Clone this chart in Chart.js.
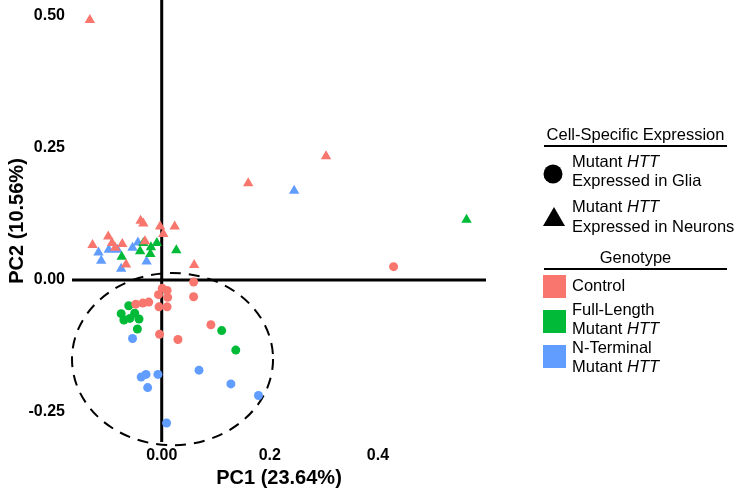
<!DOCTYPE html>
<html lang="en">
<head>
  <meta charset="UTF-8">
  <title>PCA Plot</title>
  <script src="https://cdn.jsdelivr.net/npm/chart.js"></script>
  <style>
    body { margin: 0; background: #fff; }
  </style>
</head>
<body>
  <canvas id="pcaChart" width="735" height="490"></canvas>

  <script>
    // PC1 / PC2 scores, one array per genotype + cell type
    const controlNeurons = [
      [-0.133, 0.492], [-0.039, 0.112], [-0.034, 0.107], [-0.003, 0.101],
      [0.024, 0.101], [0.003, 0.087], [-0.128, 0.066], [-0.099, 0.082],
      [-0.092, 0.070], [-0.086, 0.061], [-0.073, 0.068], [-0.031, 0.073],
      [-0.066, 0.029], [0.060, 0.028], [0.160, 0.183], [0.304, 0.234]
    ];
    const fullLengthNeurons = [
      [-0.074, 0.044], [-0.034, 0.070], [-0.040, 0.054], [-0.020, 0.062],
      [-0.021, 0.049], [-0.009, 0.070], [0.027, 0.056], [0.564, 0.114]
    ];
    const nTerminalNeurons = [
      [-0.117, 0.052], [-0.112, 0.036], [-0.098, 0.057], [-0.082, 0.057],
      [-0.054, 0.061], [-0.044, 0.071], [-0.028, 0.035], [-0.075, 0.021],
      [0.245, 0.169]
    ];
    const controlGlia = [
      [0.059, -0.004], [0.059, -0.032], [0.001, -0.016], [0.010, -0.020],
      [-0.006, -0.028], [0.011, -0.033], [-0.048, -0.046], [-0.035, -0.044],
      [-0.024, -0.042], [-0.005, -0.051], [0.010, -0.051], [0.091, -0.085],
      [-0.004, -0.103], [0.030, -0.113], [0.429, 0.025]
    ];
    const fullLengthGlia = [
      [-0.061, -0.049], [-0.075, -0.064], [-0.070, -0.076], [-0.059, -0.073],
      [-0.050, -0.063], [-0.042, -0.074], [-0.045, -0.093], [0.111, -0.096],
      [0.137, -0.133]
    ];
    const nTerminalGlia = [
      [-0.054, -0.111], [-0.038, -0.184], [-0.029, -0.179], [-0.026, -0.204],
      [-0.007, -0.179], [0.069, -0.171], [0.009, -0.271], [0.128, -0.197],
      [0.179, -0.219]
    ];

    // axis ticks
    const xTicks = [0, 0.2, 0.4];
    const xTickLabels = ['0.00', '0.2', '0.4'];
    const yTicks = [0.5, 0.25, 0, -0.25];
    const yTickLabels = ['0.50', '0.25', '0.00', '-0.25'];

    // dashed ellipse (centre and radii in PC units)
    const ellipse = { cx: 0.020, cy: -0.150, rx: 0.186, ry: 0.163 };

    const colors = { control: '#F8766D', fullLength: '#00BA38', nTerminal: '#619CFF' };
    const FONT = '"Liberation Sans", Arial, sans-serif';

    const toPoints = arr => arr.map(p => ({ x: p[0], y: p[1] }));

    function series(label, arr, color, style) {
      return {
        label: label,
        data: toPoints(arr),
        backgroundColor: color,
        borderWidth: 0,
        pointStyle: style,
        pointRadius: style === 'triangle' ? 6 : 4.5,
        pointHoverRadius: style === 'triangle' ? 6 : 4.5
      };
    }

    // zero lines + ellipse, drawn under the points
    const refLines = {
      id: 'refLines',
      beforeDatasetsDraw(chart) {
        const { ctx, chartArea: a, scales: { x, y } } = chart;
        ctx.save();
        ctx.strokeStyle = '#000';
        ctx.lineWidth = 3;
        ctx.beginPath();
        ctx.moveTo(a.left, y.getPixelForValue(0));
        ctx.lineTo(a.right, y.getPixelForValue(0));
        ctx.moveTo(x.getPixelForValue(0), a.top);
        ctx.lineTo(x.getPixelForValue(0), a.bottom);
        ctx.stroke();

        const cx = x.getPixelForValue(ellipse.cx);
        const cy = y.getPixelForValue(ellipse.cy);
        const rx = x.getPixelForValue(ellipse.cx + ellipse.rx) - cx;
        const ry = cy - y.getPixelForValue(ellipse.cy + ellipse.ry);
        ctx.lineWidth = 2;
        ctx.setLineDash([11, 8]);
        ctx.beginPath();
        ctx.ellipse(cx, cy, rx, ry, 0, 0, Math.PI * 2);
        ctx.stroke();
        ctx.restore();
      }
    };

    // text with italic pieces, e.g. "Mutant HTT"
    function richText(ctx, parts, x, y) {
      parts.forEach(([txt, italic]) => {
        ctx.font = (italic ? 'italic ' : '') + '16.5px ' + FONT;
        ctx.fillText(txt, x, y);
        x += ctx.measureText(txt).width;
      });
    }

    // hand-drawn legend on the right
    const sideLegend = {
      id: 'sideLegend',
      afterDraw(chart) {
        const ctx = chart.ctx;
        const left = 544, right = 727, tx = 572;
        const mutant = [['Mutant ', false], ['HTT', true]];
        ctx.save();
        ctx.fillStyle = '#000';
        ctx.strokeStyle = '#000';
        ctx.textBaseline = 'middle';

        // cell-specific expression
        ctx.font = '16.5px ' + FONT;
        ctx.textAlign = 'center';
        ctx.fillText('Cell-Specific Expression', (left + right) / 2, 135);
        ctx.fillText('Genotype', (left + right) / 2, 258);
        ctx.lineWidth = 2;
        ctx.beginPath();
        ctx.moveTo(left, 146); ctx.lineTo(right, 146);
        ctx.moveTo(left, 269); ctx.lineTo(right, 269);
        ctx.stroke();

        ctx.textAlign = 'left';
        ctx.beginPath();
        ctx.arc(553, 174, 9.5, 0, Math.PI * 2);
        ctx.fill();
        richText(ctx, mutant, tx, 162);
        richText(ctx, [['Expressed in Glia', false]], tx, 181);

        ctx.beginPath();
        ctx.moveTo(554, 207); ctx.lineTo(565, 226); ctx.lineTo(543, 226);
        ctx.closePath();
        ctx.fill();
        richText(ctx, mutant, tx, 207);
        richText(ctx, [['Expressed in Neurons', false]], tx, 227);

        // genotype swatches
        ctx.fillStyle = colors.control;
        ctx.fillRect(543, 275, 23, 23);
        ctx.fillStyle = colors.fullLength;
        ctx.fillRect(543, 310, 23, 23);
        ctx.fillStyle = colors.nTerminal;
        ctx.fillRect(543, 345, 23, 23);

        ctx.fillStyle = '#000';
        richText(ctx, [['Control', false]], tx, 286);
        richText(ctx, [['Full-Length', false]], tx, 310);
        richText(ctx, mutant, tx, 329);
        richText(ctx, [['N-Terminal', false]], tx, 348);
        richText(ctx, mutant, tx, 367);
        ctx.restore();
      }
    };

    const noPad = s => { s.paddingTop = 0; s.paddingBottom = 0; s.paddingLeft = 0; s.paddingRight = 0; };

    const ctx = document.getElementById('pcaChart').getContext('2d');
    const pcaChart = new Chart(ctx, {
      type: 'scatter',
      data: {
        datasets: [
          series('Control glia', controlGlia, colors.control, 'circle'),
          series('Full-Length glia', fullLengthGlia, colors.fullLength, 'circle'),
          series('N-Terminal glia', nTerminalGlia, colors.nTerminal, 'circle'),
          series('Control neurons', controlNeurons, colors.control, 'triangle'),
          series('Full-Length neurons', fullLengthNeurons, colors.fullLength, 'triangle'),
          series('N-Terminal neurons', nTerminalNeurons, colors.nTerminal, 'triangle')
        ]
      },
      options: {
        responsive: false,
        animation: false,
        layout: { autoPadding: false, padding: { left: 0, right: 249, top: 0, bottom: 0 } },
        plugins: {
          legend: { display: false },
          tooltip: { enabled: false }
        },
        scales: {
          x: {
            type: 'linear',
            min: -0.166,
            max: 0.6,
            grid: { display: false, drawTicks: false },
            border: { display: false },
            afterBuildTicks: s => { s.ticks = xTicks.map(v => ({ value: v })); },
            afterFit: s => { s.height = 48; noPad(s); },
            ticks: {
              padding: 4,
              color: '#000',
              font: { family: FONT, size: 16, weight: 'bold' },
              callback: v => xTickLabels[xTicks.indexOf(v)]
            },
            title: {
              display: true,
              text: 'PC1 (23.64%)',
              color: '#000',
              padding: 0,
              font: { family: FONT, size: 20, weight: 'bold' }
            }
          },
          y: {
            type: 'linear',
            min: -0.307,
            max: 0.53,
            grid: { display: false, drawTicks: false },
            border: { display: false },
            afterBuildTicks: s => { s.ticks = yTicks.map(v => ({ value: v })); },
            afterFit: s => { s.width = 72; noPad(s); },
            ticks: {
              padding: 7,
              color: '#000',
              font: { family: FONT, size: 16, weight: 'bold' },
              callback: v => yTickLabels[yTicks.indexOf(v)]
            },
            title: {
              display: true,
              text: 'PC2 (10.56%)',
              color: '#000',
              padding: { top: 5, bottom: 0 },
              font: { family: FONT, size: 20, weight: 'bold' }
            }
          }
        }
      },
      plugins: [refLines, sideLegend]
    });
  </script>
</body>
</html>
